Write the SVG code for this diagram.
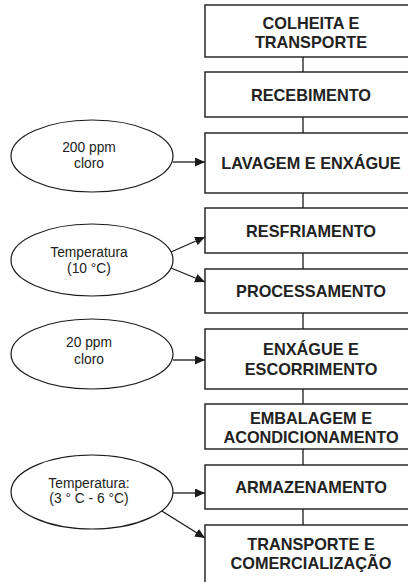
<svg xmlns="http://www.w3.org/2000/svg" width="408" height="582" viewBox="0 0 408 582">
<style>
.box{fill:#fff;stroke:#1a1a1a;stroke-width:1.4}
.ell{fill:#fff;stroke:#1a1a1a;stroke-width:1.2}
.bt{font-family:"Liberation Sans",Arial,sans-serif;font-weight:bold;font-size:16.3px;fill:#222;text-anchor:middle}
.et{font-family:"Liberation Sans",Arial,sans-serif;font-size:13.8px;fill:#222;text-anchor:middle}
.ln{stroke:#1a1a1a;stroke-width:1.3;fill:none}
</style>
<defs>
<marker id="ah" markerUnits="userSpaceOnUse" markerWidth="11" markerHeight="9" refX="10" refY="4.5" orient="auto">
<path d="M0,0 L10,4.5 L0,9 Z" fill="#1a1a1a"/>
</marker>
</defs>
<rect width="408" height="582" fill="#fff"/>
<g id="connectors">
<line class="ln" x1="303" y1="57" x2="303" y2="72"/>
<line class="ln" x1="303" y1="117" x2="303" y2="133"/>
<line class="ln" x1="303" y1="193" x2="303" y2="208"/>
<line class="ln" x1="303" y1="253" x2="303" y2="269"/>
<line class="ln" x1="303" y1="313" x2="303" y2="329"/>
<line class="ln" x1="303" y1="389" x2="303" y2="404"/>
<line class="ln" x1="303" y1="449" x2="303" y2="465"/>
<line class="ln" x1="303" y1="509" x2="303" y2="525"/>
<line class="ln" x1="173" y1="162" x2="205" y2="162" marker-end="url(#ah)"/>
<line class="ln" x1="171" y1="252" x2="205" y2="237" marker-end="url(#ah)"/>
<line class="ln" x1="171" y1="268" x2="205" y2="282" marker-end="url(#ah)"/>
<line class="ln" x1="173" y1="360" x2="205" y2="360" marker-end="url(#ah)"/>
<line class="ln" x1="173" y1="493" x2="205" y2="493" marker-end="url(#ah)"/>
<line class="ln" x1="157" y1="508" x2="205" y2="538" marker-end="url(#ah)"/>
</g>
<g id="n1"><rect class="box" x="205" y="5" width="215" height="52"/><text class="bt" x="311" y="28.5">COLHEITA E</text><text class="bt" x="311" y="47.5">TRANSPORTE</text></g>
<g id="n2"><rect class="box" x="205" y="72" width="215" height="45"/><text class="bt" x="311" y="100.5">RECEBIMENTO</text></g>
<g id="n3"><rect class="box" x="205" y="133" width="215" height="60"/><text class="bt" x="311" y="168.5">LAVAGEM E ENXÁGUE</text></g>
<g id="n4"><rect class="box" x="205" y="208" width="215" height="45"/><text class="bt" x="311" y="236.5">RESFRIAMENTO</text></g>
<g id="n5"><rect class="box" x="205" y="269" width="215" height="44"/><text class="bt" x="311" y="296.5">PROCESSAMENTO</text></g>
<g id="n6"><rect class="box" x="205" y="329" width="215" height="60"/><text class="bt" x="311" y="354.5">ENXÁGUE E</text><text class="bt" x="311" y="374.5">ESCORRIMENTO</text></g>
<g id="n7"><rect class="box" x="205" y="404" width="215" height="45"/><text class="bt" x="311" y="423.5">EMBALAGEM E</text><text class="bt" x="311" y="443">ACONDICIONAMENTO</text></g>
<g id="n8"><rect class="box" x="205" y="465" width="215" height="44"/><text class="bt" x="311" y="492.5">ARMAZENAMENTO</text></g>
<g id="n9"><rect class="box" x="205" y="525" width="215" height="70"/><text class="bt" x="311" y="550">TRANSPORTE E</text><text class="bt" x="311" y="569">COMERCIALIZAÇÃO</text></g>
<g id="e1"><ellipse class="ell" cx="92" cy="156" rx="81" ry="36"/><text class="et" x="89" y="152">200 ppm</text><text class="et" x="89" y="168">cloro</text></g>
<g id="e2"><ellipse class="ell" cx="92" cy="260" rx="81" ry="36"/><text class="et" x="89" y="257">Temperatura</text><text class="et" x="89" y="273">(10 °C)</text></g>
<g id="e3"><ellipse class="ell" cx="92" cy="354" rx="81" ry="35"/><text class="et" x="89" y="347">20 ppm</text><text class="et" x="89" y="364">cloro</text></g>
<g id="e4"><ellipse class="ell" cx="92" cy="492" rx="81" ry="37"/><text class="et" x="89" y="488">Temperatura:</text><text class="et" x="89" y="503">(3 ° C - 6 °C)</text></g>
</svg>
